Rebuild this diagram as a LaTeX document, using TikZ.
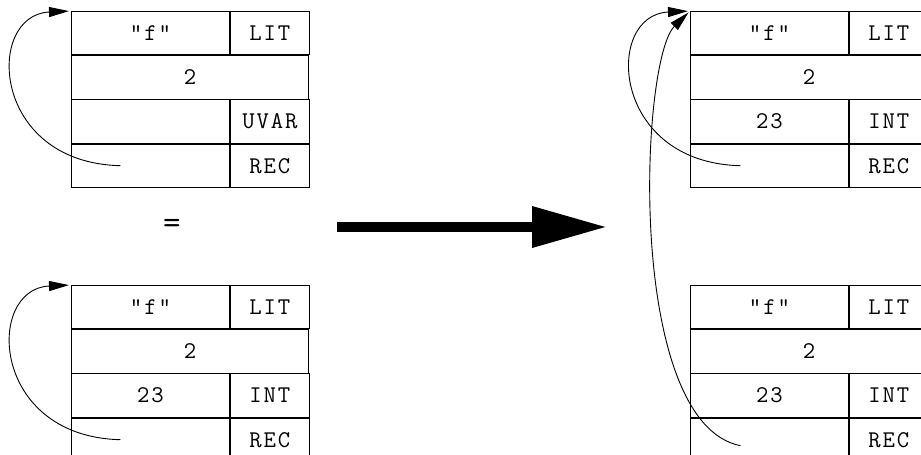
\documentclass[tikz,border=0pt]{standalone}
\usepackage{fontspec}
\setmonofont{Latin Modern Mono}[LetterSpace=8]
\usetikzlibrary{arrows.meta}

\begin{document}
\begin{tikzpicture}[x=1pt, y=-1pt,
    every node/.style={font=\ttfamily\fontsize{24}{28}\selectfont},
    cell/.style={draw, line width=0.9pt, inner sep=0pt, minimum height=43.3pt, anchor=north west},
    wide/.style={cell, minimum width=158pt},
    narrow/.style={cell, minimum width=79pt},
    full/.style={cell, minimum width=237pt},
    link/.style={-{Triangle[length=20pt,width=10pt]}, line width=0.9pt, shorten >=2pt}]
  \useasboundingbox (0,0) rectangle (921,455);
  \clip (0,0) rectangle (921,455);
  % the four records: name / length / value / pointer
  \foreach \r/\x/\y/\val/\kind in {a/71/11//UVAR, b/71/285/23/INT, c/690/11/23/INT, d/690/285/23/INT} {
    \node[wide] (\r-name) at (\x,\y) {"f"};
    \node[narrow] (\r-lit) at (\r-name.north east) {LIT};
    \node[full] (\r-len) at (\r-name.south west) {2};
    \node[wide] (\r-val) at (\r-len.south west) {\val};
    \node[narrow] (\r-kind) at (\r-val.north east) {\kind};
    \node[wide] (\r-ptr) at (\r-val.south west) {};
    \node[narrow] (\r-rec) at (\r-ptr.north east) {REC};
  }
  \node[font=\ttfamily\fontsize{34}{38}\selectfont] (eq) at (172,226) {=};
  % self references
  \coordinate (a-from) at ([xshift=-30pt]a-ptr.center);
  \coordinate (b-from) at ([xshift=-30pt]b-ptr.center);
  \coordinate (c-from) at ([xshift=-29pt]c-ptr.center);
  \coordinate (d-from) at ([xshift=-29pt,yshift=-6pt]d-ptr.center);
  \draw[link] (a-from) .. controls +(-130,-3) and +(-86,4) .. (a-name.north west);
  \draw[link] (b-from) .. controls +(-130,-3) and +(-86,4) .. (b-name.north west);
  \draw[link] (c-from) .. controls +(-130,-3) and +(-86,4) .. (c-name.north west);
  \draw[link] (d-from) .. controls +(-115,-23) and +(-50,49) .. (c-name.north west);
  % rewrite step
  \coordinate (go-from) at (337,227);
  \coordinate (go-to) at (607,227);
  \draw[line width=10pt, -{Triangle[length=75pt,width=39pt]}] (go-from) -- (go-to);
\end{tikzpicture}
\end{document}
